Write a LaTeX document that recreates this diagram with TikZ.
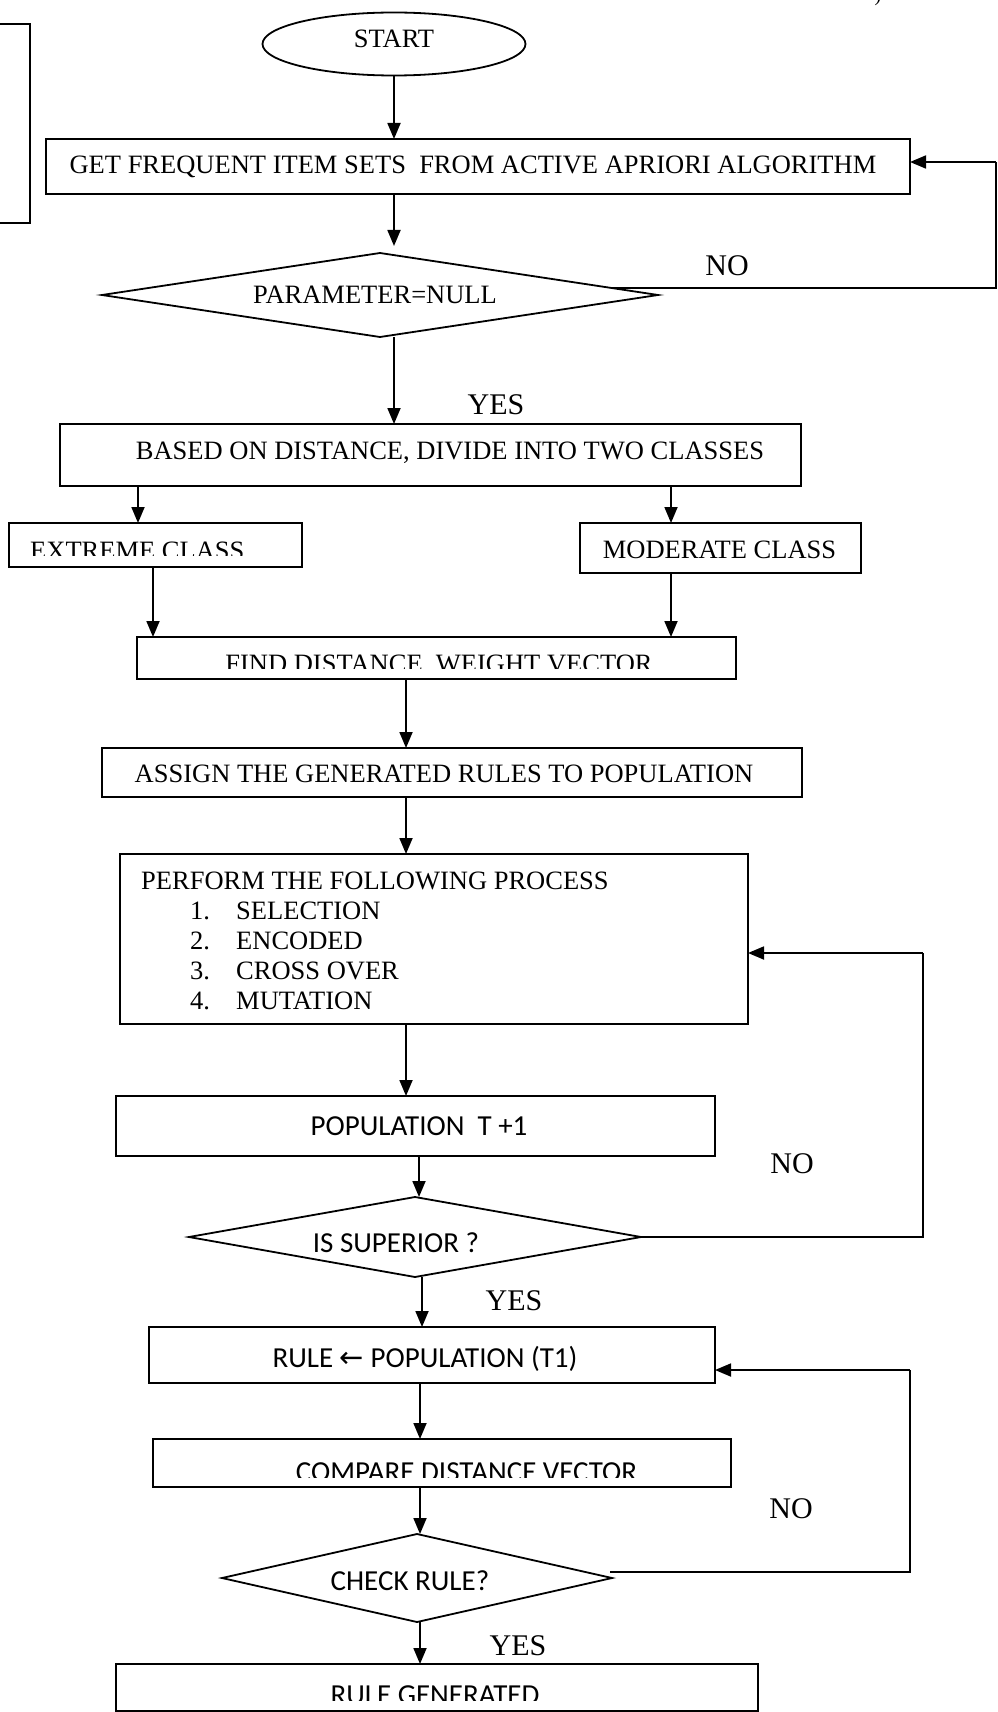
\documentclass[tikz,border=0pt]{standalone}
\usepackage{fontspec}
\setmainfont{Liberation Serif}
\newfontfamily\calfont{Carlito}
\newfontfamily\dvfont{DejaVu Sans}
\usetikzlibrary{shapes.geometric,arrows.meta,calc}
\newcommand\tmsz{\fontsize{26.5}{31}\selectfont}
\newcommand\labsz{\fontsize{30}{36}\selectfont}
\newcommand\sfsz{\calfont\fontsize{29}{34}\selectfont}
\tikzset{
  ln/.style={line width=1.8pt},
  arr/.style={ln,-{Triangle[length=16pt,width=13pt]}},
  box/.style={draw,ln,rectangle,inner sep=0pt,outer sep=0pt},
  dia/.style={draw,ln,diamond,inner sep=0pt,outer sep=0pt},
  tx/.style={font=\tmsz,inner sep=0pt,anchor=base},
  sx/.style={font=\sfsz,inner sep=0pt,anchor=base},
  lab/.style={font=\labsz,inner sep=0pt,anchor=base}
}
\begin{document}
\begin{tikzpicture}[x=1pt,y=-1pt]
\fill[white] (0,0) rectangle (997,1712);
\useasboundingbox (0,0) rectangle (997,1712);

% partial box at the left edge and mark at top right
\draw[ln] (-5,24) -- (30,24) -- (30,223) -- (-5,223);
\node[font=\fontsize{20}{24}\selectfont,inner sep=0pt,anchor=base] (mark) at (878,2) {)};

% shapes
\node[draw,ln,ellipse,inner sep=0pt,minimum width=263pt,minimum height=63pt] (start) at (394,44) {};
\node[box,minimum width=864pt,minimum height=55pt] (get) at (478,166.5) {};
\node[dia,minimum width=556pt,minimum height=84pt] (d1) at (380,295) {};
\node[box,minimum width=741pt,minimum height=62pt] (based) at (430.5,455) {};
\node[box,minimum width=293pt,minimum height=44pt] (extreme) at (155.5,545) {};
\node[box,minimum width=281pt,minimum height=50pt] (moderate) at (720.5,548) {};
\node[box,minimum width=599pt,minimum height=42pt] (find) at (436.5,658) {};
\node[box,minimum width=700pt,minimum height=49pt] (assign) at (452,772.5) {};
\node[box,minimum width=628pt,minimum height=170pt] (perform) at (434,939) {};
\node[box,minimum width=599pt,minimum height=60pt] (pop) at (415.5,1126) {};
\node[dia,minimum width=452pt,minimum height=80pt] (d2) at (415,1237) {};
\node[box,minimum width=566pt,minimum height=56pt] (rule) at (432,1355) {};
\node[box,minimum width=578pt,minimum height=48pt] (compare) at (442,1463) {};
\node[dia,minimum width=390pt,minimum height=88pt] (d3) at (417,1578) {};
\node[box,minimum width=642pt,minimum height=47pt] (gen) at (437,1687.5) {};

% texts
\node[tx] (tstart) at (394,48) {START};
\node[tx] (tget) at (473,174) {GET FREQUENT ITEM SETS\ \ FROM ACTIVE APRIORI ALGORITHM};
\node[tx] (td1) at (375,303) {PARAMETER=NULL};
\node[tx] (tbased) at (450,459) {BASED ON DISTANCE, DIVIDE INTO TWO CLASSES};
\begin{scope}
  \clip (9,523) rectangle (302,555);
  \node[tx,anchor=base west] (textreme) at (30,559) {EXTREME CLASS};
\end{scope}
\node[tx] (tmoderate) at (719.5,558) {MODERATE CLASS};
\begin{scope}
  \clip (137,637) rectangle (736,668);
  \node[tx] (tfind) at (439,672) {FIND DISTANCE\ \ WEIGHT VECTOR};
\end{scope}
\node[tx] (tassign) at (444,782) {ASSIGN THE GENERATED RULES TO POPULATION};
\node[tx,anchor=base west] (tp0) at (141,889) {PERFORM THE FOLLOWING PROCESS};
\node[tx,anchor=base west] (tp1n) at (190,919) {1.};
\node[tx,anchor=base west] (tp1) at (236,919) {SELECTION};
\node[tx,anchor=base west] (tp2n) at (190,949) {2.};
\node[tx,anchor=base west] (tp2) at (236,949) {ENCODED};
\node[tx,anchor=base west] (tp3n) at (190,979) {3.};
\node[tx,anchor=base west] (tp3) at (236,979) {CROSS OVER};
\node[tx,anchor=base west] (tp4n) at (190,1009) {4.};
\node[tx,anchor=base west] (tp4) at (236,1009) {MUTATION};
\node[sx] (tpop) at (419,1135) {POPULATION\ \ T +1};
\node[sx] (td2) at (396,1252) {IS SUPERIOR ?};
\node[sx] (trule) at (425,1367) {RULE {\dvfont ←} POPULATION (T1)};
\begin{scope}
  \clip (153,1439) rectangle (731,1477);
  \node[sx] (tcompare) at (466.5,1481) {COMPARE DISTANCE VECTOR};
\end{scope}
\node[sx] (td3) at (410,1590) {CHECK RULE?};
\begin{scope}
  \clip (116,1664) rectangle (758,1700);
  \node[sx] (tgen) at (435,1704) {RULE GENERATED};
\end{scope}

% branch labels
\node[lab] (no1) at (727,275) {NO};
\node[lab] (yes1) at (496,414) {YES};
\node[lab] (no2) at (792,1173) {NO};
\node[lab] (yes2) at (514,1310) {YES};
\node[lab] (no3) at (791,1518) {NO};
\node[lab] (yes3) at (518,1655) {YES};

% column helpers
\coordinate (xA) at (394,0);
\coordinate (xB) at (138,0);
\coordinate (xC) at (671,0);
\coordinate (xD) at (153,0);
\coordinate (xE) at (406,0);
\coordinate (xF) at (419,0);
\coordinate (xG) at (422,0);
\coordinate (xH) at (420,0);
\coordinate (d1in) at (394,246);
\coordinate (n1s) at ($(d1.east)!0.17!(d1.north)$);
\coordinate (lp1) at (996,162);
\coordinate (lp2) at (923,953);
\coordinate (n3s) at (610,1572);
\coordinate (lp3) at (910,1370);

% connectors
\draw[arr] (start.south) -- (start.south |- get.north);
\draw[arr] (get.south -| xA) -- (d1in);
\draw[ln] (n1s) -- (n1s -| lp1) -- (lp1);
\draw[arr] (lp1) -- (get.east |- lp1);
\draw[arr] (d1.south -| xA) -- (based.north -| xA);
\draw[arr] (based.south -| xB) -- (extreme.north -| xB);
\draw[arr] (based.south -| xC) -- (moderate.north -| xC);
\draw[arr] (extreme.south -| xD) -- (find.north -| xD);
\draw[arr] (moderate.south -| xC) -- (find.north -| xC);
\draw[arr] (find.south -| xE) -- (assign.north -| xE);
\draw[arr] (assign.south -| xE) -- (perform.north -| xE);
\draw[arr] (perform.south -| xE) -- (pop.north -| xE);
\draw[arr] (pop.south -| xF) -- (d2.north -| xF);
\draw[ln] (d2.east) -- (d2.east -| lp2) -- (lp2);
\draw[arr] (lp2) -- (perform.east |- lp2);
\draw[arr] (d2.south -| xG) -- (rule.north -| xG);
\draw[arr] (rule.south -| xH) -- (compare.north -| xH);
\draw[arr] (compare.south -| xH) -- (d3.north -| xH);
\draw[ln] (n3s) -- (n3s -| lp3) -- (lp3);
\draw[arr] (lp3) -- (rule.east |- lp3);
\draw[arr] (d3.south -| xH) -- (gen.north -| xH);
\end{tikzpicture}
\end{document}
